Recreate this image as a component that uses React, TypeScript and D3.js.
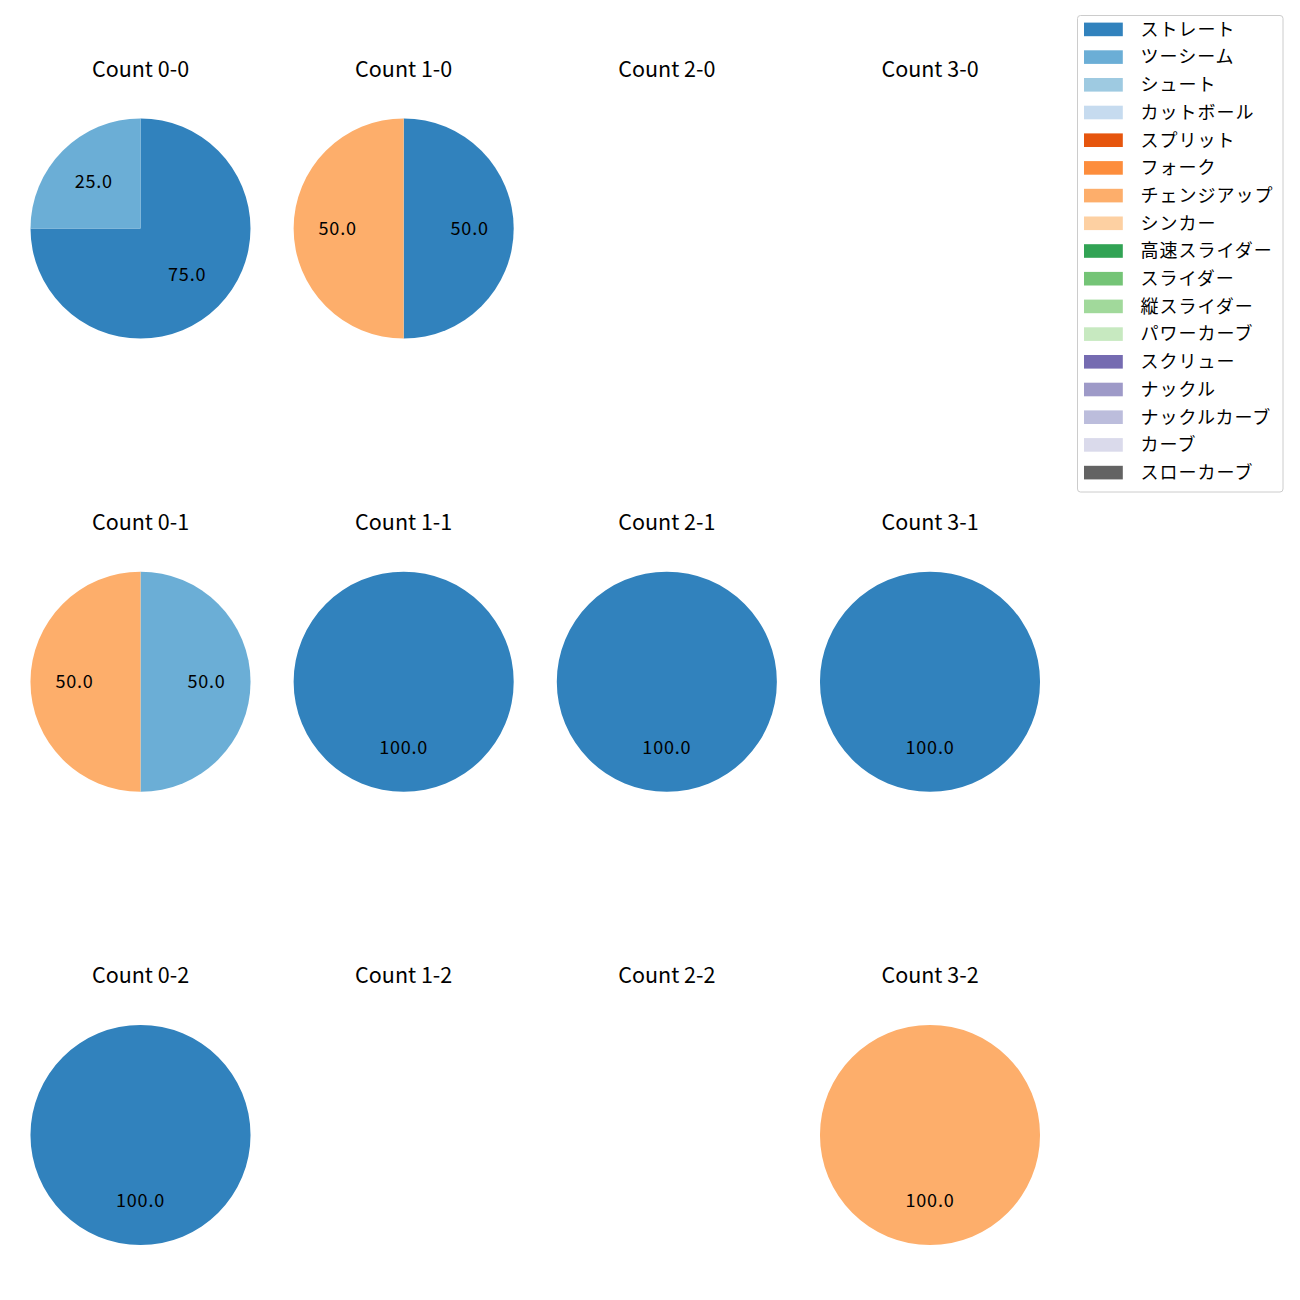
import * as d3 from 'd3';
import { useEffect, useRef } from 'react';

// pitch types (legend order) and their colours (tab20c)
const pitchTypes = [
  'ストレート', 'ツーシーム', 'シュート', 'カットボール', 'スプリット', 'フォーク',
  'チェンジアップ', 'シンカー', '高速スライダー', 'スライダー', '縦スライダー',
  'パワーカーブ', 'スクリュー', 'ナックル', 'ナックルカーブ', 'カーブ', 'スローカーブ',
];
const pitchColors = [
  '#3182bd', '#6baed6', '#9ecae1', '#c6dbef', '#e6550d', '#fd8d3c',
  '#fdae6b', '#fdd0a2', '#31a354', '#74c476', '#a1d99b', '#c7e9c0',
  '#756bb1', '#9e9ac8', '#bcbddc', '#dadaeb', '#636363',
];

// balls / strikes of each panel
const balls = [0, 1, 2, 3];
const strikes = [0, 1, 2];

// percentages per count, keyed "balls-strikes"
const counts: Record<string, [string, number][]> = {
  '0-0': [['ストレート', 75], ['ツーシーム', 25]],
  '1-0': [['ストレート', 50], ['チェンジアップ', 50]],
  '2-0': [],
  '3-0': [],
  '0-1': [['ツーシーム', 50], ['チェンジアップ', 50]],
  '1-1': [['ストレート', 100]],
  '2-1': [['ストレート', 100]],
  '3-1': [['ストレート', 100]],
  '0-2': [['ストレート', 100]],
  '1-2': [],
  '2-2': [],
  '3-2': [['チェンジアップ', 100]],
};

export default function App() {
  const chartRef = useRef<SVGSVGElement>(null);

  const width = 1300;
  const height = 1300;
  const radius = 110;
  const font = '"Noto Sans CJK JP", "Noto Sans", sans-serif';

  useEffect(() => {
    const svg = d3.select(chartRef.current);
    svg.selectAll('*').remove();

    const xScale = d3.scalePoint<number>().domain(balls).range([140.5, 930]);
    const yScale = d3.scalePoint<number>().domain(strikes).range([228.5, 1135]);
    const color = d3.scaleOrdinal<string, string>().domain(pitchTypes).range(pitchColors);

    // clockwise from 12 o'clock, like matplotlib startangle=90, counterclock=False
    const pie = d3.pie<[string, number]>().sort(null).value((d) => d[1]);
    const arc = d3.arc<d3.PieArcDatum<[string, number]>>().innerRadius(0).outerRadius(radius);
    const labelArc = d3
      .arc<d3.PieArcDatum<[string, number]>>()
      .innerRadius(radius * 0.6)
      .outerRadius(radius * 0.6);

    strikes.forEach((s) => {
      balls.forEach((b) => {
        const key = `${b}-${s}`;
        const cx = xScale(b)!;
        const cy = yScale(s)!;
        const g = svg.append('g').attr('transform', `translate(${cx},${cy})`);

        // panel title
        g.append('text')
          .text(`Count ${key}`)
          .attr('y', -radius - 42)
          .attr('text-anchor', 'middle')
          .attr('font-size', '21.5px')
          .attr('font-family', font)
          .attr('fill', '#000');

        const slices = pie(counts[key]);

        g.selectAll('path.slice')
          .data(slices)
          .enter()
          .append('path')
          .attr('class', 'slice')
          .attr('d', (d) => arc(d)!)
          .attr('fill', (d) => color(d.data[0]));

        g.selectAll('text.pct')
          .data(slices)
          .enter()
          .append('text')
          .attr('class', 'pct')
          .attr('transform', (d) => `translate(${labelArc.centroid(d)})`)
          .attr('text-anchor', 'middle')
          .attr('dy', '0.35em')
          .attr('font-size', '18px')
          .attr('letter-spacing', '0.8px')
          .attr('font-family', font)
          .attr('fill', '#000')
          .text((d) => d.data[1].toFixed(1));
      });
    });

    // legend
    const legendY = d3.scaleLinear().domain([0, 1]).range([29.4, 57.1]);
    const legend = svg.append('g');
    legend
      .append('rect')
      .attr('x', 1077.5)
      .attr('y', 15.5)
      .attr('width', 205.5)
      .attr('height', 476.5)
      .attr('rx', 3)
      .attr('fill', '#fff')
      .attr('fill-opacity', 0.8)
      .attr('stroke', '#cccccc');

    const items = legend
      .selectAll('g.item')
      .data(pitchTypes)
      .enter()
      .append('g')
      .attr('class', 'item')
      .attr('transform', (d, i) => `translate(0,${legendY(i)})`);

    items
      .append('rect')
      .attr('x', 1084)
      .attr('y', -6.8)
      .attr('width', 38.8)
      .attr('height', 13.6)
      .attr('fill', (d) => color(d));

    items
      .append('text')
      .attr('x', 1140.5)
      .attr('dy', '0.35em')
      .attr('font-size', '18px')
      .attr('letter-spacing', '1px')
      .attr('font-family', font)
      .attr('fill', '#000')
      .text((d) => d);
  }, []);

  return (
    <svg
      ref={chartRef}
      width={width}
      height={height}
      style={{ position: 'absolute', left: 0, top: 0, background: '#fff' }}
    />
  );
}
